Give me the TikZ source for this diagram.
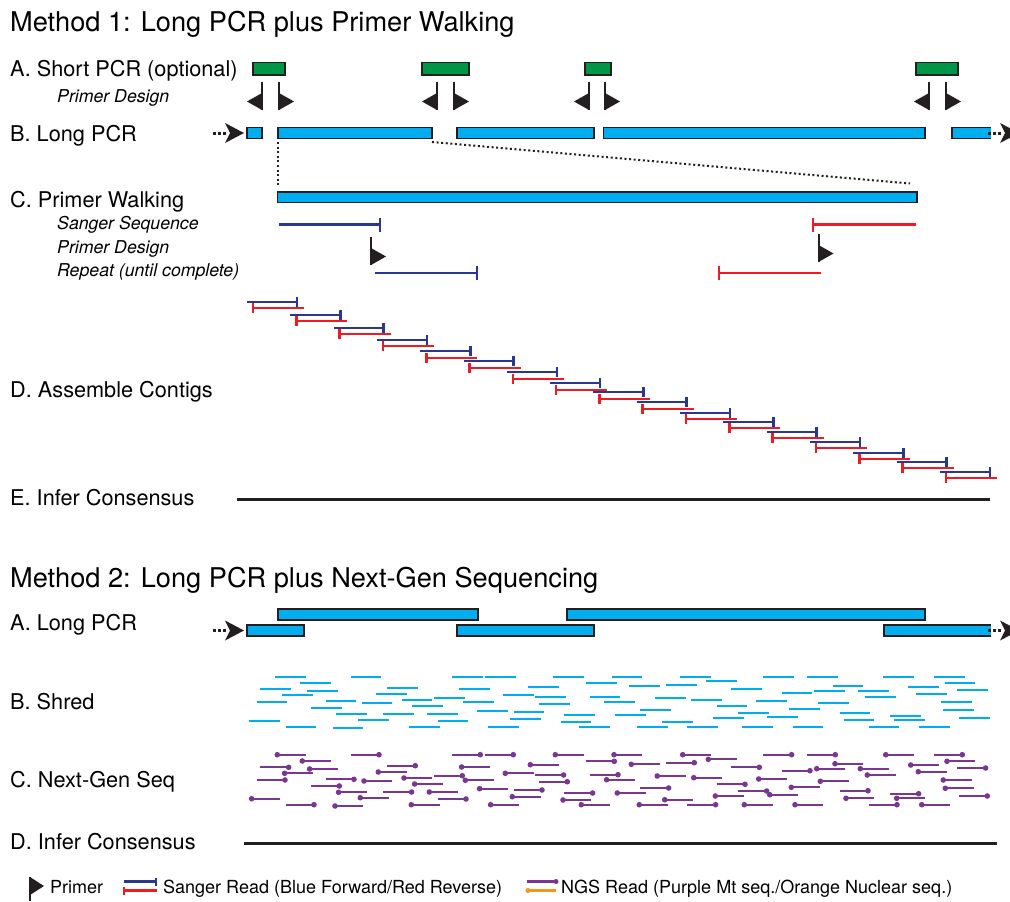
\documentclass[tikz,border=0pt]{standalone}
\usepackage{fontspec}
\setmainfont{TeX Gyre Heros}
\definecolor{ink}{RGB}{35,31,32}
\definecolor{cyanbar}{RGB}{0,174,239}
\definecolor{greenbox}{RGB}{0,150,72}
\definecolor{sblue}{RGB}{40,56,145}
\definecolor{sred}{RGB}{237,28,36}
\definecolor{purp}{RGB}{122,55,145}
\definecolor{orng}{RGB}{247,148,29}
\newcommand\PrimerF[2]{\fill[ink] (#1-1,#2) rectangle (#1+1,#2+28); \fill[ink] (#1,#2+11) -- (#1+15,#2+19.5) -- (#1,#2+28) -- cycle;}
\newcommand\PrimerRv[2]{\fill[ink] (#1-1,#2) rectangle (#1+1,#2+28); \fill[ink] (#1,#2+11) -- (#1-15,#2+19.5) -- (#1,#2+28) -- cycle;}
\newcommand\PCRarrow[2]{\draw[ink, line width=3pt, dash pattern=on 2.5pt off 2.5pt] (#1-31,#2) -- (#1-18,#2);
 \fill[ink] (#1,#2) -- (#1-19,#2-10) -- (#1-14,#2) -- (#1-19,#2+10) -- cycle;}
\begin{document}
\begin{tikzpicture}[x=1pt,y=-1pt,
  bar/.style={draw=ink, line width=1.7pt, fill=cyanbar},
  gbox/.style={draw=ink, line width=1.7pt, fill=greenbox},
  lbl/.style={anchor=base west, inner sep=0pt, font=\fontsize{21.7}{26}\selectfont},
  sub/.style={anchor=base west, inner sep=0pt, font=\fontsize{17.7}{21}\selectfont\itshape},
  ttl/.style={anchor=base west, inner sep=0pt, font=\fontsize{27.2}{32}\selectfont},
  leg/.style={anchor=base west, inner sep=0pt, font=\fontsize{18}{22}\selectfont},
  sb/.style={draw=sblue, line width=2.2pt},
  sr/.style={draw=sred, line width=2.2pt},
  tk/.style={line width=2.6pt},
  shred/.style={draw=cyanbar, line width=2.2pt},
  ngs/.style={draw=purp, line width=2.2pt},
  dotc/.style={draw=ink, line width=2pt, dash pattern=on 2pt off 2.6pt},
  cons/.style={draw=ink, line width=3pt}]
\useasboundingbox[fill=white] (0,0) rectangle (1010,902);

% ---------- Method 1 ----------
\node[ttl] (t1) at (10,31) {Method 1: Long PCR plus Primer Walking};
\node[lbl] (la) at (10,76) {A. Short PCR (optional)};
\node[sub] (lpd) at (57,102) {Primer Design};
\node[lbl] (lb) at (10,141) {B. Long PCR};
\node[lbl] (lc) at (10,207) {C. Primer Walking};
\node[sub] (lss) at (57,229) {Sanger Sequence};
\node[sub] (lpd2) at (57,253) {Primer Design};
\node[sub] (lrp) at (57,276) {Repeat (until complete)};
\node[lbl] (ld) at (10,397) {D. Assemble Contigs};
\node[lbl] (le) at (10,505) {E. Infer Consensus};

% short PCR boxes
\draw[gbox] (253,62.5) rectangle (285,75);
\draw[gbox] (422,62.5) rectangle (469,75);
\draw[gbox] (585,62.5) rectangle (611,75);
\draw[gbox] (916,62.5) rectangle (958,75);

% primers
\PrimerRv{262}{82} \PrimerF{279}{82}
\PrimerRv{437}{82} \PrimerF{454}{82}
\PrimerRv{589}{82} \PrimerF{605}{82}
\PrimerRv{929}{82} \PrimerF{946}{82}

% long PCR
\PCRarrow{244}{133}
\draw[bar] (247,127.5) rectangle (262,138.5);
\draw[bar] (278,127.5) rectangle (432,138.5);
\draw[bar] (457,127.5) rectangle (594,138.5);
\draw[bar] (603.5,127.5) rectangle (925,138.5);
\draw[bar] (952,127.5) rectangle (1000,138.5);
\fill[white] (990.8,126) rectangle (1012,140);
\draw[ink, line width=1.7pt] (990,127.5) -- (952,127.5) -- (952,138.5) -- (990,138.5);
\PCRarrow{1019}{133}

% zoom connectors
\coordinate (zA) at (278,142);
\coordinate (zB) at (278,185);
\coordinate (zC) at (432,142);
\coordinate (zD) at (910,183.5);
\draw[dotc] (zA) -- (zB);
\draw[dotc] (zC) -- (zD);

% primer walking
\draw[bar] (277.5,192) rectangle (917,202.5);
\draw[sb] (279,224.5) -- (380,224.5);
\draw[sblue, tk] (380,217.5) -- (380,231.5);
\draw[sr] (813,224.5) -- (916,224.5);
\draw[sred, tk] (813,217.5) -- (813,231.5);
\PrimerF{371}{237}
\PrimerF{818.5}{234}
\draw[sb] (375,272.7) -- (477,272.7);
\draw[sblue, tk] (477,266) -- (477,279.5);
\draw[sr] (719,272.7) -- (821,272.7);
\draw[sred, tk] (719,266) -- (719,279.5);

% contigs
\foreach \i/\y in {0/301.7,1/315,2/327.7,3/339.7,4/351.3,5/361.3,6/372.3,7/383.3,8/392.3,9/402.3,10/413,11/422,12/432,13/442,14/452.7,15/462,16/472}{
  \pgfmathsetmacro\xx{247+43.3*\i}
  \draw[sb] (\xx,\y) -- (\xx+50,\y);
  \draw[sblue, tk] (\xx+50,\y-5) -- (\xx+50,\y+5);
  \draw[sr] (\xx+6,\y+6.3) -- (\xx+57,\y+6.3);
  \draw[sred, tk] (\xx+6,\y+1.3) -- (\xx+6,\y+11.3);
}
\draw[cons] (237,499) -- (990,499);

% ---------- Method 2 ----------
\node[ttl] (t2) at (10,587) {Method 2: Long PCR plus Next-Gen Sequencing};
\node[lbl] (m2a) at (10,630) {A. Long PCR};
\node[lbl] (m2b) at (10,709) {B. Shred};
\node[lbl] (m2c) at (10,787) {C. Next-Gen Seq};
\node[lbl] (m2d) at (10,849) {D. Infer Consensus};

\draw[bar] (278,609) rectangle (478,620);
\draw[bar] (567,609) rectangle (925,620);
\PCRarrow{244}{630.5}
\draw[bar] (247,625) rectangle (304,636);
\draw[bar] (457,625) rectangle (594,636);
\draw[bar] (884,625) rectangle (1000,636);
\fill[white] (990.8,623.5) rectangle (1012,637.5);
\draw[ink, line width=1.7pt] (990,625) -- (884,625) -- (884,636) -- (990,636);
\PCRarrow{1019}{630.5}

% shred + NGS reads
\foreach \s/\y/\d in {275/676.7/0,350.7/676.7/1,452/676.7/1,485/676.7/1,553/676.7/0,611.7/676.7/0,300/683/0,586/683.3/1,260.3/689.3/1,387/687.7/1,459.3/689/0,528/686.7/0,629/686.3/0,307.3/691/0,282.3/695.3/0,376/694/0,434/697.7/1,503/695.3/0,535.3/697/1,589.7/696.7/1,256.7/702/1,325.7/701.3/1,361.7/703/0,401.7/700/0,463/702.3/0,539/703.7/1,604.3/701.7/0,311/708/1,412.3/706/0,477.3/710.7/0,513.7/712/1,336.3/714.3/0,383.3/714/1,427/714/0,564.3/715/1,615/715/0,249.3/720.7/0,358/719.7/0,437.7/721/1,510/718.7/0,560.7/722/0,285.7/726.7/1,332.7/728/0,409/726.7/0,488.3/726.7/0,579/726.7/0,
680.4/676.7/0,763.3/676.7/1,807/676.7/1,883.4/676.7/0,934/676.7/1,666/684.7/1,706/681.3/0,731/689.3/1,832.7/685.7/0,908.4/687/0,944.7/683.3/0,781.7/692.7/1,814.4/690.7/0,858/690.7/0,957.3/690/1,655/698/0,691.4/699.7/0,865/697/0,916/693.7/0,756.4/701/0,818/703.3/0,941/702/0,716.7/706.3/1,640.3/710/1,789/709.3/0,943/710.3/0,738.3/713/1,767.4/716.7/0,839.7/712.7/1,890.3/715.7/1,713/718/0,662.4/721.7/0,843.7/720.3/0,894.4/720.3/0,959/718/1,637/726.7/0,687.3/726.7/1,742/726.7/0,792.7/726.7/0,868.7/726.7/1,919.4/726.7/0}{
  \draw[shred] (\s,\y) -- (\s+30.7,\y);
  \draw[ngs] (\s+2.3-2.3*\d,\y+78) -- (\s+30.7-2.4*\d,\y+78);
  \fill[purp] (\s+2.3+26*\d,\y+78) circle (2.8);
}
\draw[cons] (244,843) -- (997,843);

% ---------- Legend ----------
\fill[ink] (29,877) rectangle (31,901);
\fill[ink] (30,877) -- (44,886) -- (30,895) -- cycle;
\node[leg] (lg1) at (50,893) {Primer};
\draw[sb] (124,881.5) -- (156,881.5);
\draw[sblue, tk] (156,877.5) -- (156,885.5);
\draw[sr] (124,890.5) -- (157,890.5);
\draw[sred, tk] (124,886.5) -- (124,894.5);
\node[leg] (lg2) at (163,893) {Sanger Read (Blue Forward/Red Reverse)};
\draw[ngs] (527,881.5) -- (556,881.5);
\fill[purp] (556,881.5) circle (2.5);
\draw[orng, line width=2.2pt] (528,890.5) -- (556,890.5);
\fill[orng] (528,890.5) circle (2.5);
\node[leg] (lg3) at (561,893) {NGS Read (Purple Mt seq./Orange Nuclear seq.)};
\end{tikzpicture}
\end{document}
